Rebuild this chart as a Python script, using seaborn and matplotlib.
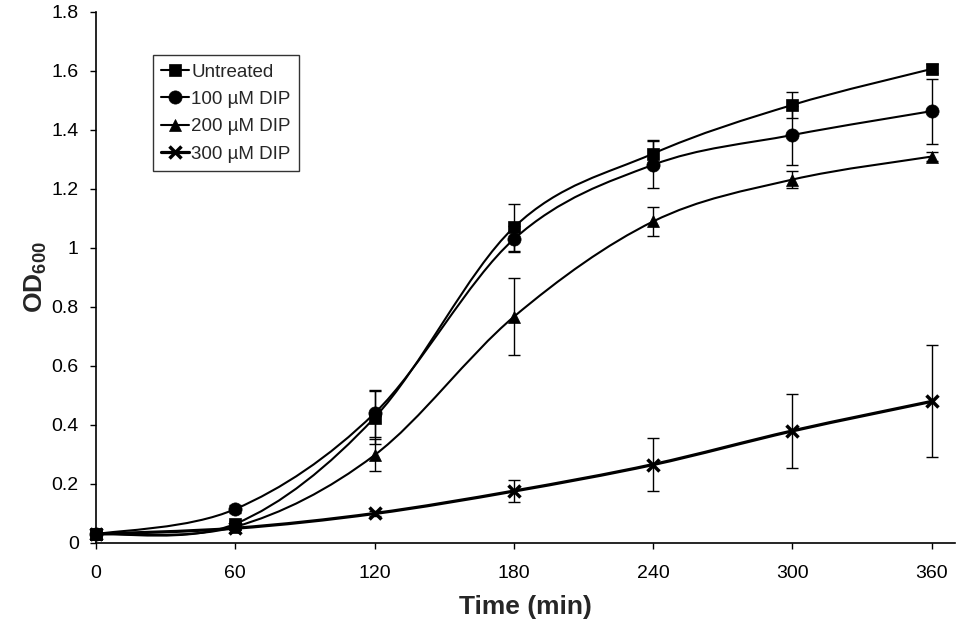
import numpy as np
import pandas as pd
import seaborn as sns
import matplotlib.pyplot as plt
from matplotlib.path import Path
from matplotlib.patches import PathPatch
from matplotlib.lines import Line2D
from matplotlib.ticker import FuncFormatter

time_min = [0, 60, 120, 180, 240, 300, 360]

untreated = [0.03, 0.065, 0.425, 1.07, 1.32, 1.485, 1.607]
untreated_err = [0.0, 0.008, 0.09, 0.08, 0.045, 0.045, 0.015]

dip100 = [0.03, 0.115, 0.44, 1.03, 1.282, 1.383, 1.464]
dip100_err = [0.0, 0.015, 0.08, 0.045, 0.08, 0.1, 0.11]

dip200 = [0.03, 0.055, 0.298, 0.767, 1.09, 1.232, 1.31]
dip200_err = [0.0, 0.006, 0.053, 0.13, 0.05, 0.028, 0.015]

dip300 = [0.03, 0.05, 0.1, 0.176, 0.266, 0.38, 0.48]
dip300_err = [0.0, 0.005, 0.008, 0.037, 0.09, 0.125, 0.19]

labels = ['Untreated', '100 \u00b5M DIP', '200 \u00b5M DIP', '300 \u00b5M DIP']
markers = ['s', 'o', '^', 'x']

df = pd.DataFrame({
    'time': time_min * 4,
    'od': untreated + dip100 + dip200 + dip300,
    'err': untreated_err + dip100_err + dip200_err + dip300_err,
    'series': np.repeat(labels, len(time_min)),
})

sns.set_style('ticks')
plt.rcParams['font.family'] = ['Liberation Sans', 'DejaVu Sans']
plt.rcParams['mathtext.fontset'] = 'custom'
plt.rcParams['mathtext.rm'] = 'Liberation Sans'
plt.rcParams['mathtext.bf'] = 'Liberation Sans:bold'

fig = plt.figure(figsize=(9.71, 6.41), dpi=100)
ax = fig.add_axes([0.0989, 0.1529, 0.8846, 0.8284])


def smooth_path(x, y):
    # Excel-style smoothed line: cubic Bezier through the points
    pts = np.column_stack([x, y]).astype(float)
    p = np.vstack([pts[0], pts, pts[-1]])
    verts = [pts[0]]
    codes = [Path.MOVETO]
    for i in range(1, len(p) - 2):
        c1 = p[i] + (p[i + 1] - p[i - 1]) / 6
        c2 = p[i + 1] - (p[i + 2] - p[i]) / 6
        verts += [c1, c2, p[i + 1]]
        codes += [Path.CURVE4] * 3
    return Path(verts, codes)


sizes = {'s': 9, 'o': 9.5, '^': 9, 'x': 9}
handles = []
for lab, m in zip(labels, markers):
    d = df[df['series'] == lab]
    lw = 2.3 if m == 'x' else 1.5
    ax.add_patch(PathPatch(smooth_path(d['time'], d['od']), fill=False,
                           edgecolor='black', lw=lw, zorder=2, clip_on=False))
    ax.errorbar(d['time'], d['od'], yerr=d['err'], fmt='none', ecolor='black',
                elinewidth=1, capsize=4.5, capthick=1, zorder=3, clip_on=False)
    mew = 2.5 if m == 'x' else 0.5
    ax.plot(d['time'], d['od'], linestyle='none', marker=m, ms=sizes[m],
            color='black', mew=mew, zorder=4, clip_on=False)
    handles.append(Line2D([], [], color='black', lw=lw, marker=m, ms=sizes[m], mew=mew))

ax.set_xlim(0, 370)
ax.set_ylim(0, 1.8)
ax.set_xticks(time_min)
ax.set_yticks(np.arange(0, 1.81, 0.2))
ax.yaxis.set_major_formatter(FuncFormatter(lambda v, p: f'{v:g}'))
ax.tick_params(axis='both', labelsize=14, direction='out', length=4.5, width=1,
               color='black', labelcolor='black', pad=8)
ax.tick_params(axis='x', pad=11)
sns.despine(ax=ax)
for s in ['left', 'bottom']:
    ax.spines[s].set_linewidth(1.2)
    ax.spines[s].set_color('black')

ax.set_xlabel('Time (min)', fontsize=19, fontweight='bold', labelpad=10)
ax.set_ylabel(r'$\mathbf{OD_{600}}$', fontsize=19, labelpad=2)

leg = ax.legend(handles, labels, loc='upper left', bbox_to_anchor=(0.066, 0.919),
                borderaxespad=0, fontsize=13.5, frameon=True, fancybox=False,
                edgecolor='black', handlelength=1.5, handletextpad=0.1,
                borderpad=0.45, labelspacing=0.55)
leg.get_frame().set_linewidth(1)

fig.savefig('out.png', dpi=100)
